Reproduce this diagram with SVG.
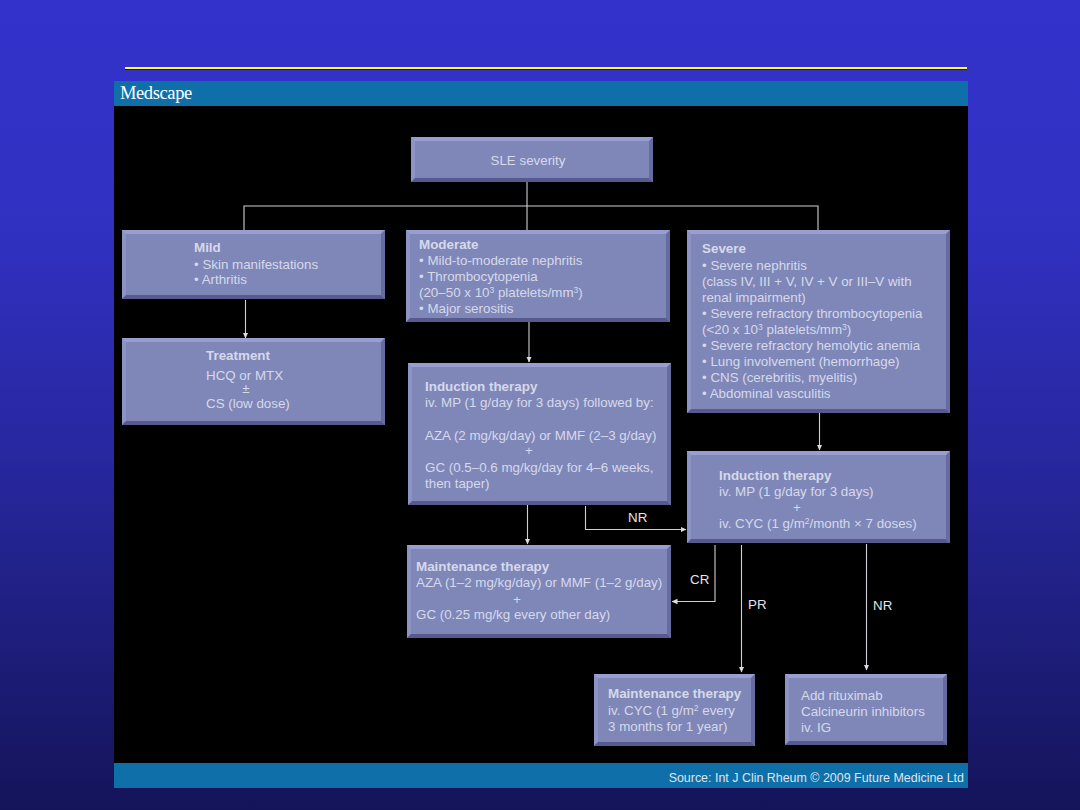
<svg xmlns="http://www.w3.org/2000/svg" width="1080" height="810" viewBox="0 0 1080 810">
<defs>
<linearGradient id="bg" x1="0" y1="0" x2="0" y2="1"><stop offset="0" stop-color="#3333cc"/><stop offset="0.3" stop-color="#3030c0"/><stop offset="0.6" stop-color="#26269a"/><stop offset="1" stop-color="#14145a"/></linearGradient>
<marker id="ah" markerWidth="6" markerHeight="7" refX="5.500" refY="3.500" orient="auto" markerUnits="userSpaceOnUse"><path d="M0 0.800L6 3.500L0 6.200Z" fill="#dcdce4"/></marker>
</defs>
<style>
text{font-family:"Liberation Sans",Arial,sans-serif;font-size:13.350px;fill:#d6d9ea}
.b{font-weight:bold;font-size:13.400px}
.m{text-anchor:middle}
.s{font-size:8.500px}
.left{fill:#8d93c4}
.top{fill:#989ed0}
.right{fill:#666ba0}
.bot{fill:#565a8c}
.face{fill:#7f87b9}
.c{fill:none;stroke:#cfcfd6;stroke-width:1.100}
.l{fill:#e4e4ea}
</style>
<rect width="1080" height="810" fill="url(#bg)"/>
<rect x="125" y="67" width="842" height="2" fill="#ffff33"/>
<rect x="125" y="69" width="842" height="1" fill="#101030"/>
<rect x="114" y="81" width="854" height="707" fill="#000"/>
<rect x="114" y="81" width="854" height="25" fill="#0f6fa8"/>
<rect x="114" y="763" width="854" height="25" fill="#0f6fa8"/>
<text x="120" y="99" style="font-family:'Liberation Serif',serif;font-size:18.500px;fill:#fff;letter-spacing:-0.400px">Medscape</text>
<text x="964" y="781.500" text-anchor="end" style="font-size:12.450px;fill:#dfe4ee">Source: Int J Clin Rheum © 2009 Future Medicine Ltd</text>

<g id="connectors">
<path class="c" d="M527 182V231M244 231V206H818V231"/>
<path class="c" d="M245.500 300V338" marker-end="url(#ah)"/>
<path class="c" d="M529 322V362" marker-end="url(#ah)"/>
<path class="c" d="M819.500 412V450" marker-end="url(#ah)"/>
<path class="c" d="M527.500 505V544" marker-end="url(#ah)"/>
<path class="c" d="M585.500 506V529.500H686" marker-end="url(#ah)"/>
<path class="c" d="M715 545V601.500H672" marker-end="url(#ah)"/>
<path class="c" d="M741.500 545V672" marker-end="url(#ah)"/>
<path class="c" d="M866.500 544V670" marker-end="url(#ah)"/>
<text class="l" x="628" y="522">NR</text>
<text class="l" x="690" y="584">CR</text>
<text class="l" x="748" y="609">PR</text>
<text class="l" x="873" y="610">NR</text>
</g>

<g id="n-severity">
<rect class="left" x="411" y="137" width="242" height="45"/><polygon class="top" points="411,137 653,137 649,141 415,141"/><polygon class="right" points="653,137 653,182 649,178 649,141"/><polygon class="bot" points="411,182 653,182 649,178 415,178"/><rect class="face" x="415" y="141" width="234" height="37"/>
<text class="m" x="528" y="165">SLE severity</text>
</g>

<g id="n-mild">
<rect class="left" x="122" y="230" width="263" height="69"/><polygon class="top" points="122,230 385,230 381,234 126,234"/><polygon class="right" points="385,230 385,299 381,295 381,234"/><polygon class="bot" points="122,299 385,299 381,295 126,295"/><rect class="face" x="126" y="234" width="255" height="61"/>
<text class="b" x="194" y="252">Mild</text><text x="194" y="269">• Skin manifestations</text><text x="194" y="284">• Arthritis</text>
</g>

<g id="n-treatment">
<rect class="left" x="122" y="338" width="263" height="87"/><polygon class="top" points="122,338 385,338 381,342 126,342"/><polygon class="right" points="385,338 385,425 381,421 381,342"/><polygon class="bot" points="122,425 385,425 381,421 126,421"/><rect class="face" x="126" y="342" width="255" height="79"/>
<text class="b" x="206" y="360">Treatment</text><text x="206" y="380">HCQ or MTX</text><text class="m" x="246" y="393">±</text><text x="206" y="408">CS (low dose)</text>
</g>

<g id="n-moderate">
<rect class="left" x="406" y="230" width="264" height="92"/><polygon class="top" points="406,230 670,230 666,234 410,234"/><polygon class="right" points="670,230 670,322 666,318 666,234"/><polygon class="bot" points="406,322 670,322 666,318 410,318"/><rect class="face" x="410" y="234" width="256" height="84"/>
<text class="b" x="419" y="249">Moderate</text><text x="419" y="265">• Mild-to-moderate nephritis</text><text x="419" y="281">• Thrombocytopenia</text><text x="419" y="297">(20–50 x 10<tspan class="s" dy="-4">3</tspan><tspan dy="4"> platelets/mm</tspan><tspan class="s" dy="-4">3</tspan><tspan dy="4">)</tspan></text><text x="419" y="313">• Major serositis</text>
</g>

<g id="n-induction-mod">
<rect class="left" x="408" y="363" width="263" height="142"/><polygon class="top" points="408,363 671,363 667,367 412,367"/><polygon class="right" points="671,363 671,505 667,501 667,367"/><polygon class="bot" points="408,505 671,505 667,501 412,501"/><rect class="face" x="412" y="367" width="255" height="134"/>
<text class="b" x="425" y="391">Induction therapy</text><text x="425" y="407">iv. MP (1 g/day for 3 days) followed by:</text><text x="425" y="440">AZA (2 mg/kg/day) or MMF (2–3 g/day)</text><text class="m" x="529" y="455">+</text><text x="425" y="472">GC (0.5–0.6 mg/kg/day for 4–6 weeks,</text><text x="425" y="488">then taper)</text>
</g>

<g id="n-severe">
<rect class="left" x="687" y="230" width="263" height="183"/><polygon class="top" points="687,230 950,230 946,234 691,234"/><polygon class="right" points="950,230 950,413 946,409 946,234"/><polygon class="bot" points="687,413 950,413 946,409 691,409"/><rect class="face" x="691" y="234" width="255" height="175"/>
<text class="b" x="702" y="253">Severe</text><text x="702" y="270">• Severe nephritis</text><text x="702" y="286">(class IV, III + V, IV + V or III–V with</text><text x="702" y="302">renal impairment)</text><text x="702" y="318">• Severe refractory thrombocytopenia</text><text x="702" y="334">(&lt;20 x 10<tspan class="s" dy="-4">3</tspan><tspan dy="4"> platelets/mm</tspan><tspan class="s" dy="-4">3</tspan><tspan dy="4">)</tspan></text><text x="702" y="350">• Severe refractory hemolytic anemia</text><text x="702" y="366">• Lung involvement (hemorrhage)</text><text x="702" y="382">• CNS (cerebritis, myelitis)</text><text x="702" y="398">• Abdominal vasculitis</text>
</g>

<g id="n-induction-sev">
<rect class="left" x="687" y="451" width="263" height="92"/><polygon class="top" points="687,451 950,451 946,455 691,455"/><polygon class="right" points="950,451 950,543 946,539 946,455"/><polygon class="bot" points="687,543 950,543 946,539 691,539"/><rect class="face" x="691" y="455" width="255" height="84"/>
<text class="b" x="719" y="480">Induction therapy</text><text x="719" y="496">iv. MP (1 g/day for 3 days)</text><text class="m" x="797" y="512">+</text><text x="719" y="528">iv. CYC (1 g/m<tspan class="s" dy="-4">2</tspan><tspan dy="4">/month × 7 doses)</tspan></text>
</g>

<g id="n-maint-mod">
<rect class="left" x="407" y="545" width="264" height="93"/><polygon class="top" points="407,545 671,545 667,549 411,549"/><polygon class="right" points="671,545 671,638 667,634 667,549"/><polygon class="bot" points="407,638 671,638 667,634 411,634"/><rect class="face" x="411" y="549" width="256" height="85"/>
<text class="b" x="416" y="571">Maintenance therapy</text><text x="416" y="587">AZA (1–2 mg/kg/day) or MMF (1–2 g/day)</text><text class="m" x="517" y="604">+</text><text x="416" y="619">GC (0.25 mg/kg every other day)</text>
</g>

<g id="n-maint-sev">
<rect class="left" x="594" y="674" width="161" height="72"/><polygon class="top" points="594,674 755,674 751,678 598,678"/><polygon class="right" points="755,674 755,746 751,742 751,678"/><polygon class="bot" points="594,746 755,746 751,742 598,742"/><rect class="face" x="598" y="678" width="153" height="64"/>
<text class="b" x="608" y="698">Maintenance therapy</text><text x="608" y="715">iv. CYC (1 g/m<tspan class="s" dy="-4">2</tspan><tspan dy="4"> every</tspan></text><text x="608" y="731">3 months for 1 year)</text>
</g>

<g id="n-rescue">
<rect class="left" x="785" y="674" width="162" height="71"/><polygon class="top" points="785,674 947,674 943,678 789,678"/><polygon class="right" points="947,674 947,745 943,741 943,678"/><polygon class="bot" points="785,745 947,745 943,741 789,741"/><rect class="face" x="789" y="678" width="154" height="63"/>
<text x="801" y="700">Add rituximab</text><text x="801" y="716">Calcineurin inhibitors</text><text x="801" y="732">iv. IG</text>
</g>
</svg>
